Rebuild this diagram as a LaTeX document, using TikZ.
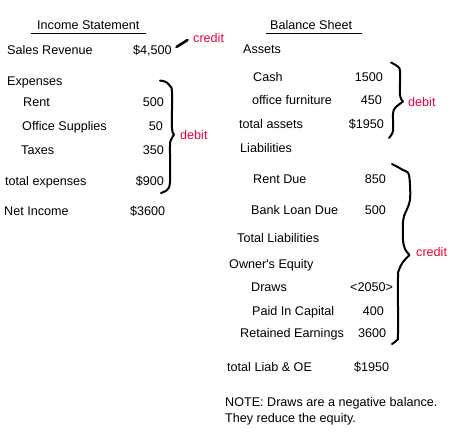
\documentclass[tikz,border=0pt]{standalone}
\usepackage{fontspec}
\setmainfont{Liberation Sans}
\definecolor{note}{RGB}{235,0,60}
\begin{document}
\begin{tikzpicture}[x=1pt,y=-1pt,
  lbl/.style={anchor=base west,inner sep=0pt,font=\fontsize{12.6}{14}\selectfont},
  num/.style={anchor=base east,inner sep=0pt,font=\fontsize{12.6}{14}\selectfont},
  red/.style={anchor=base west,inner sep=0pt,text=note,font=\fontsize{12.6}{14}\selectfont},
  brace/.style={line width=2pt,line cap=round,line join=round}]
\fill[white] (0,0) rectangle (451,433);
\useasboundingbox (0,0) rectangle (451,433);
% Income statement
\node[lbl] (ist) at (37,30) {Income Statement};
\draw[line width=1pt] (31,33.5) -- (146,33.5);
\node[lbl] (sr) at (7,55) {Sales Revenue};
\node[lbl] (srv) at (133,55) {\$4,500};
\node[lbl] (exp) at (7,86) {Expenses};
\node[lbl] (rent) at (23,107) {Rent};
\node[num] (rentv) at (164,107) {500};
\node[lbl] (os) at (22,131) {Office Supplies};
\node[num] (osv) at (163,131) {50};
\node[lbl] (tax) at (21,155) {Taxes};
\node[num] (taxv) at (164,155) {350};
\node[lbl] (te) at (5,186) {total expenses};
\node[num] (tev) at (164,186) {\$900};
\node[lbl] (ni) at (4,216) {Net Income};
\node[lbl] (niv) at (130,216) {\$3600};
\node[red] (cr1) at (193,43) {credit};
\coordinate (a1) at (176.5,47);
\coordinate (a2) at (187.5,40);
\draw[line width=2.6pt,line cap=round] (a1) -- (a2);
\node[red] (db1) at (180,140) {debit};
\draw[brace] plot[smooth,tension=0.5] coordinates {(160,80.5) (166,82) (170,86) (172,92) (172,128) (174,134.5)};
\draw[brace] plot[smooth,tension=0.5] coordinates {(174,134.5) (171,140) (170,146) (170,182) (167,190) (161,193)};
% Balance sheet
\node[lbl] (bst) at (270,30) {Balance Sheet};
\draw[line width=1pt] (266,34) -- (362,34);
\node[lbl] (as) at (243,54) {Assets};
\node[lbl] (cash) at (253,82) {Cash};
\node[num] (cashv) at (383,82) {1500};
\node[lbl] (of) at (252,105) {office furniture};
\node[num] (ofv) at (382,105) {450};
\node[lbl] (ta) at (239,129) {total assets};
\node[num] (tav) at (384,129) {\$1950};
\node[lbl] (li) at (240,153) {Liabilities};
\node[red] (db2) at (408,107) {debit};
\draw[brace] plot[smooth,tension=0.5] coordinates {(391,62.5) (397,66) (400,71) (400,95) (403,101.5)};
\draw[brace] plot[smooth,tension=0.5] coordinates {(403,101.5) (395,108) (393,114) (393,131) (389,138)};
\node[lbl] (rd) at (253,184) {Rent Due};
\node[num] (rdv) at (386,184) {850};
\node[lbl] (bl) at (251,215) {Bank Loan Due};
\node[num] (blv) at (386,215) {500};
\node[lbl] (tl) at (237,243) {Total Liabilities};
\node[lbl] (oe) at (229,269) {Owner\textquotesingle s Equity};
\node[lbl] (dr) at (251,292) {Draws};
\node[lbl] (drv) at (350,292) {<2050>};
\node[lbl] (pc) at (252,316) {Paid In Capital};
\node[num] (pcv) at (384,316) {400};
\node[lbl] (re) at (240,338) {Retained Earnings};
\node[lbl] (rev) at (358,338) {3600};
\node[lbl] (tlo) at (227,372) {total Liab \& OE};
\node[lbl] (tlov) at (354,372) {\$1950};
\node[lbl] (n1) at (225,407) {NOTE: Draws are a negative balance.};
\node[lbl] (n2) at (225,423) {They reduce the equity.};
\node[red] (cr2) at (416,257) {credit};
\draw[brace] plot[smooth,tension=0.5] coordinates {(392,164) (403,170) (409,175) (410,200) (404,216) (403,222) (403,240) (405,249) (409.5,255)};
\draw[brace] plot[smooth,tension=0.5] coordinates {(409.5,255) (403,262) (399,270) (398,278) (398,334) (397,340) (392,344)};
\end{tikzpicture}
\end{document}
